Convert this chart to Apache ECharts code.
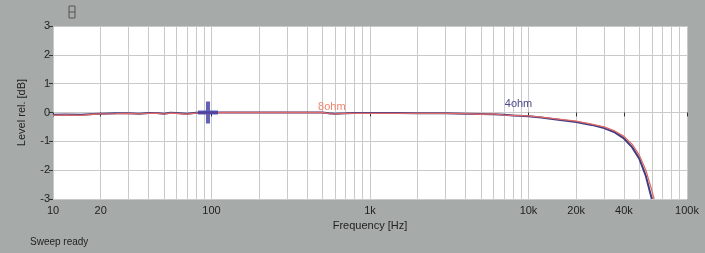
<!DOCTYPE html>
<html><head><meta charset="utf-8">
<script src="https://cdn.jsdelivr.net/npm/echarts@6/dist/echarts.min.js"></script>
<style>html,body{margin:0;padding:0;background:#a6aaa9}#c{width:705px;height:253px}</style>
</head><body><div id="c"></div>
<script>
var freqs = [10,12,15,18,20,25,30,35,40,45,50,55,60,70,80,90,100,120,150,200,250,300,400,500,550,600,700,800,1000,1500,2000,3000,4000,5000,6000,7000,8000,10000,12000,15000,20000,25000,30000,35000,40000,45000,50000,55000,60000,62000];
var ohm8 = [-0.1,-0.08,-0.1,-0.06,-0.05,-0.04,-0.03,-0.05,-0.03,-0.02,-0.06,-0.02,-0.03,-0.06,-0.02,-0.01,-0.01,0,0,0,0,0,0,0,-0.04,-0.05,-0.03,-0.03,-0.03,-0.03,-0.03,-0.03,-0.04,-0.06,-0.05,-0.09,-0.1,-0.12,-0.16,-0.22,-0.3,-0.4,-0.5,-0.64,-0.83,-1.1,-1.48,-2.0,-2.7,-3.0];
var ohm4 = [-0.08,-0.07,-0.08,-0.05,-0.04,-0.03,-0.03,-0.04,-0.02,-0.02,-0.04,-0.01,-0.02,-0.04,-0.01,0,0,0,0,0,0,0,0,0,-0.03,-0.04,-0.03,-0.02,-0.02,-0.02,-0.03,-0.03,-0.04,-0.05,-0.06,-0.08,-0.1,-0.13,-0.17,-0.24,-0.33,-0.43,-0.54,-0.69,-0.9,-1.2,-1.6,-2.2,-3.0,null];
var xTickLabels = [10,20,100,1000,10000,20000,40000,100000];
var gridFreqs = [];
[10,100,1000,10000].forEach(function(d){for(var m=1;m<10;m++)gridFreqs.push(d*m);});
gridFreqs.push(100000);
var yTicks = [-3,-2,-1,0,1,2,3];
var cursor = [[95,0]];

function fmt(v){ if(v>=1000) return (v/1000)+'k'; return String(v); }
var FONT = 'Liberation Sans';
var chart = echarts.init(document.getElementById('c'));
chart.setOption({
  backgroundColor:'#a6aaa9',
  animation:false,
  textStyle:{fontFamily:FONT},
  grid:{left:53,right:18,top:26,bottom:54,show:true,backgroundColor:'#ffffff',borderWidth:0},
  xAxis:[{
    type:'log',logBase:10,min:10,max:100000,position:'bottom',
    name:'Frequency [Hz]',nameLocation:'middle',nameGap:21,
    nameTextStyle:{fontSize:11,color:'#222',fontFamily:FONT},
    axisLine:{show:false},
    axisTick:{show:true,length:4,inside:false,lineStyle:{color:'#333'},customValues:xTickLabels},
    axisLabel:{fontSize:11,color:'#222',margin:6,customValues:xTickLabels,formatter:fmt,fontFamily:FONT},
    splitLine:{show:false}
  },{
    type:'log',logBase:10,min:10,max:100000,position:'bottom',
    axisLine:{show:false},
    axisTick:{show:false,customValues:gridFreqs},
    axisLabel:{show:false,customValues:gridFreqs},
    splitLine:{show:true,lineStyle:{color:'#c9c9c9',width:1}}
  }],
  yAxis:{
    type:'value',min:-3,max:3,interval:1,
    name:'Level rel. [dB]',nameLocation:'middle',nameGap:26,nameRotate:90,
    nameTextStyle:{fontSize:11,color:'#222',fontFamily:FONT},
    axisLine:{show:false},
    axisTick:{show:true,length:4,lineStyle:{color:'#333'}},
    axisLabel:{fontSize:11,color:'#222',margin:3},
    splitLine:{show:true,lineStyle:{color:'#c9c9c9',width:1}}
  },
  graphic:[
    {type:'rect',shape:{x:69,y:6,width:6,height:12},style:{fill:'none',stroke:'#555',lineWidth:1}},
    {type:'line',shape:{x1:69,y1:12,x2:75,y2:12},style:{stroke:'#555',lineWidth:1}},
    {type:'text',left:30,top:237,style:{text:'Sweep ready',fontSize:10,fill:'#222',fontFamily:FONT}}
  ],
  series:[
    {type:'line',name:'4ohm',xAxisIndex:0,data:freqs.map(function(f,i){return [f,ohm4[i]];}),
     showSymbol:false,lineStyle:{color:'#3d3d80',width:2},z:2,
     markPoint:{symbol:'circle',symbolSize:0,data:[{coord:[8650,0.12],label:{show:true,formatter:'4ohm',position:'top',distance:0,color:'#4a4a8a',fontSize:11,fontFamily:FONT}}]}},
    {type:'line',name:'8ohm',xAxisIndex:0,data:freqs.map(function(f,i){return [f,ohm8[i]];}),
     showSymbol:false,lineStyle:{color:'#e06a6a',width:1.3},z:3,
     markPoint:{symbol:'circle',symbolSize:0,data:[{coord:[574,0],label:{show:true,formatter:'8ohm',position:'top',distance:0,color:'#ee8870',fontSize:11,fontFamily:FONT}}]}},
    {type:'scatter',xAxisIndex:0,data:cursor,symbol:'path://M8,0 L12,0 L12,9 L20,9 L20,13 L12,13 L12,22 L8,22 L8,13 L0,13 L0,9 L8,9 Z',
     symbolSize:[20,22],symbolKeepAspect:false,itemStyle:{color:'#3a3aa8'},z:4}
  ]
});
</script></body></html>
